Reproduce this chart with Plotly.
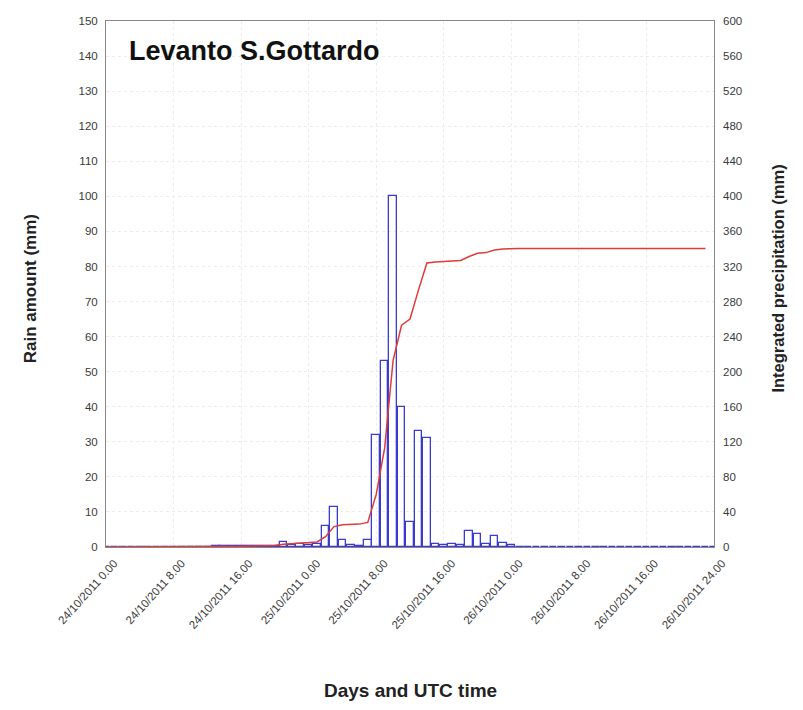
import plotly.graph_objects as go

# Hours since 24/10/2011 00:00 UTC
hours = list(range(0, 73))

# Hourly rain amount (mm)
rain = [0, 0, 0, 0, 0, 0, 0, 0, 0, 0, 0, 0, 0,
        0.2, 0.2, 0.2, 0.2, 0.2, 0.2, 0.2, 0.3, 1.5, 0.5, 0.8, 0.5, 0.8,
        6, 11.5, 2, 0.5, 0.3, 2,
        32, 53, 100, 40, 7, 33, 31,
        0.8, 0.5, 0.8, 0.5, 4.5, 3.8, 0.8, 3, 1.2, 0.5,
        0, 0, 0, 0, 0, 0, 0, 0, 0, 0, 0, 0, 0, 0, 0, 0, 0, 0, 0, 0, 0, 0, 0, 0]

# Integrated precipitation (mm)
cumul = [0, 0, 0, 0, 0, 0, 0, 0, 0, 0, 0, 0, 0,
         0.2, 0.4, 0.6, 0.8, 1.0, 1.2, 1.4, 1.7, 3.2, 3.7, 4.5, 5.0, 5.8,
         11.8, 23.3, 25.3, 25.8, 26.1, 28.1,
         60, 113, 213, 253, 260, 293, 324,
         325, 325.5, 326.3, 326.8, 331.3, 335, 335.8, 338.8, 340, 340.5,
         340.5, 340.5, 340.5, 340.5, 340.5, 340.5, 340.5, 340.5, 340.5, 340.5, 340.5,
         340.5, 340.5, 340.5, 340.5, 340.5, 340.5, 340.5, 340.5, 340.5, 340.5, 340.5, 340.5]

tick_hours = [0, 8, 16, 24, 32, 40, 48, 56, 64, 72]
tick_labels = ["24/10/2011 0.00", "24/10/2011 8.00", "24/10/2011 16.00",
               "25/10/2011 0.00", "25/10/2011 8.00", "25/10/2011 16.00",
               "26/10/2011 0.00", "26/10/2011 8.00", "26/10/2011 16.00",
               "26/10/2011 24.00"]

title_text = "Levanto S.Gottardo"
x_title = "Days and UTC time"
y_title = "Rain amount (mm)"
y2_title = "Integrated precipitation (mm)"

fig = go.Figure()
fig.add_trace(go.Bar(
    x=hours, y=rain, width=0.9,
    marker=dict(color="rgba(255,255,255,0)", line=dict(color="#3b3bd0", width=1.3)),
    showlegend=False,
))
fig.add_trace(go.Scatter(
    x=hours, y=cumul, mode="lines", yaxis="y2",
    line=dict(color="#e03a3a", width=1.5),
    showlegend=False,
))

FONT = "Liberation Sans, Arial"
font_tick = dict(family=FONT, size=11.5, color="#3a3a3a")
fig.update_layout(
    width=803, height=710,
    margin=dict(l=98, r=97, t=13, b=171),
    paper_bgcolor="white", plot_bgcolor="white",
    bargap=0,
    xaxis=dict(
        range=[0, 72], tickmode="array", tickvals=tick_hours, ticktext=tick_labels,
        tickangle=-48, tickfont=dict(family=FONT, size=11.5, color="#3a3a3a"), ticks="",
        ticklabelstandoff=4, ticklabelshift=8, showgrid=True,
        gridcolor="#ededed", griddash="dot", showline=True, linecolor="#888",
        linewidth=1, mirror=True, zeroline=False, automargin=False,
    ),
    yaxis=dict(
        range=[0, 150], dtick=10, tickfont=font_tick, ticks="", ticklabelstandoff=5,
        showgrid=True, gridcolor="#ededed", griddash="dot",
        showline=True, linecolor="#888", linewidth=1, mirror=True, zeroline=False,
        automargin=False,
    ),
    yaxis2=dict(
        range=[0, 600], dtick=40, overlaying="y", side="right", ticklabelstandoff=8,
        tickfont=font_tick, ticks="", showgrid=False, zeroline=False,
        automargin=False,
    ),
    annotations=[
        dict(text="<b>" + title_text + "</b>", xref="paper", yref="paper",
             x=0.034, y=0.975, xanchor="left", yanchor="top", showarrow=False,
             font=dict(family=FONT, size=27, color="#111")),
        dict(text="<b>" + x_title + "</b>", xref="paper", yref="paper",
             x=0.5, y=-0.272, xanchor="center", yanchor="middle", showarrow=False,
             font=dict(family=FONT, size=19, color="#222")),
        dict(text="<b>" + y_title + "</b>", xref="paper", yref="paper",
             x=-0.125, y=0.49, xanchor="center", yanchor="middle", showarrow=False,
             textangle=-90, font=dict(family=FONT, size=17, color="#222")),
        dict(text="<b>" + y2_title + "</b>", xref="paper", yref="paper",
             x=1.105, y=0.51, xanchor="center", yanchor="middle", showarrow=False,
             textangle=-90, font=dict(family=FONT, size=16.5, color="#222")),
    ],
)

fig.write_html("out.html")
